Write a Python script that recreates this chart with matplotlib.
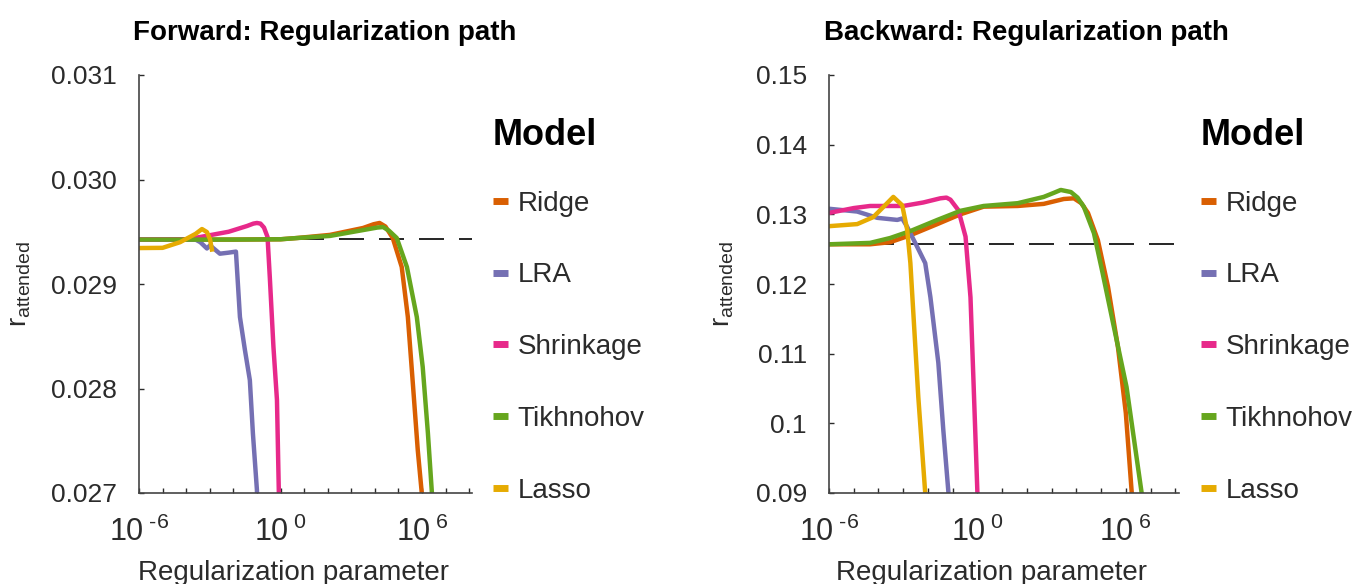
import numpy as np
import matplotlib
matplotlib.use("Agg")
import matplotlib.pyplot as plt
from matplotlib.lines import Line2D

plt.rcParams['font.family'] = ['Liberation Sans', 'DejaVu Sans']
plt.rcParams['mathtext.fontset'] = 'custom'
plt.rcParams['mathtext.rm'] = 'Liberation Sans'

# colours (Dark2) and model names
models = ['Ridge', 'LRA', 'Shrinkage', 'Tikhnohov', 'Lasso']
colors = ['#d95f02', '#7570b3', '#e7298a', '#66a61e', '#e6ab02']

# ---- Forward: log10(regularization parameter) and r_attended ----
fwd_ridge_exp = [-6, -2, 0, 0.7, 2.1, 3.5, 3.95, 4.2, 4.45, 4.76, 5.14, 5.40, 5.61, 5.82, 5.99, 6.1]
fwd_ridge_val = [0.029425, 0.029425, 0.029428, 0.02944, 0.02947, 0.029536, 0.029572, 0.029584,
                 0.02955, 0.02944, 0.029163, 0.028684, 0.028053, 0.027411, 0.027, 0.0268]
fwd_lra_exp = [-6, -3.6, -3.4, -3.12, -2.99, -2.57, -2.2, -1.89, -1.72, -1.51, -1.30, -1.17, -1.0, -0.97]
fwd_lra_val = [0.029425, 0.029425, 0.0294, 0.02934, 0.02937, 0.02929, 0.0293, 0.02931,
               0.028684, 0.02837, 0.02808, 0.02757, 0.02703, 0.0268]
fwd_shrink_exp = [-6, -4, -3.4, -2.2, -1.42, -1.15, -1.0, -0.85, -0.7, -0.55, -0.45, -0.3,
                  -0.15, -0.07, -0.03]
fwd_shrink_val = [0.029425, 0.029428, 0.02945, 0.0295, 0.029555, 0.029578, 0.029584, 0.029578,
                  0.02954, 0.02945, 0.02905, 0.0284, 0.02789, 0.027, 0.0268]
fwd_tikh_exp = [-6, -2, 0, 0.7, 2.1, 3.5, 4.1, 4.35, 4.6, 4.93, 5.36, 5.78, 6.03, 6.25, 6.42, 6.5]
fwd_tikh_val = [0.029425, 0.029425, 0.029428, 0.02944, 0.02946, 0.029516, 0.02954, 0.029545,
                0.02951, 0.02944, 0.029163, 0.028684, 0.028206, 0.027574, 0.027, 0.0268]
fwd_lasso_exp = [-6, -5, -4.26, -3.6, -3.33, -3.12, -2.99, -2.91]
fwd_lasso_val = [0.029344, 0.029346, 0.0294, 0.02948, 0.029526, 0.029497, 0.02943, 0.02933]
fwd_baseline = 0.02943

# ---- Backward ----
bwd_ridge_exp = [-6, -4.34, -3.53, -2.71, -1.62, -0.69, 0.25, 1.63, 2.68, 3.49, 3.9, 4.2,
                 4.47, 4.87, 5.28, 5.68, 6.0, 6.24, 6.35]
bwd_ridge_val = [0.1257, 0.1257, 0.1260, 0.1270, 0.1286, 0.1300, 0.1311, 0.1312, 0.1315,
                 0.1322, 0.1323, 0.1316, 0.1302, 0.1263, 0.1196, 0.1110, 0.1015, 0.090, 0.088]
bwd_lra_exp = [-6, -4.86, -4.05, -3.24, -3.04, -2.84, -2.43, -2.11, -1.9, -1.58, -1.38, -1.17, -1.12]
bwd_lra_val = [0.1308, 0.1304, 0.1295, 0.1292, 0.1294, 0.1282, 0.1253, 0.1230, 0.1181,
               0.1087, 0.0991, 0.090, 0.088]
bwd_shrink_exp = [-6, -5, -4.34, -3.0, -2.19, -1.5, -1.25, -1.09, -0.77, -0.48, -0.28, -0.16,
                  0.0, 0.03]
bwd_shrink_val = [0.1302, 0.1309, 0.1312, 0.1312, 0.1317, 0.1323, 0.1324, 0.1321, 0.1306,
                  0.1268, 0.1181, 0.1062, 0.090, 0.088]
bwd_tikh_exp = [-6, -4.34, -3.53, -2.71, -1.62, -0.69, 0.25, 1.63, 2.68, 3.1, 3.37, 3.78,
                4.05, 4.30, 4.71, 5.06, 5.46, 6.03, 6.64, 6.75]
bwd_tikh_val = [0.1257, 0.1259, 0.1266, 0.1276, 0.1292, 0.1305, 0.1312, 0.1316, 0.1325,
                0.1331, 0.1335, 0.1332, 0.1324, 0.1311, 0.1273, 0.1216, 0.1148, 0.1052,
                0.090, 0.088]
bwd_lasso_exp = [-6, -4.86, -4.21, -3.65, -3.4, -3.04, -2.84, -2.71, -2.59, -2.39, -2.11, -2.05]
bwd_lasso_val = [0.1283, 0.1286, 0.1296, 0.1316, 0.1325, 0.1313, 0.1278, 0.1230, 0.1158,
                 0.1038, 0.090, 0.088]
bwd_baseline = 0.1257

fwd = [(fwd_ridge_exp, fwd_ridge_val), (fwd_lra_exp, fwd_lra_val),
       (fwd_shrink_exp, fwd_shrink_val), (fwd_tikh_exp, fwd_tikh_val),
       (fwd_lasso_exp, fwd_lasso_val)]
bwd = [(bwd_ridge_exp, bwd_ridge_val), (bwd_lra_exp, bwd_lra_val),
       (bwd_shrink_exp, bwd_shrink_val), (bwd_tikh_exp, bwd_tikh_val),
       (bwd_lasso_exp, bwd_lasso_val)]

fwd_yticks = [0.027, 0.028, 0.029, 0.030, 0.031]
fwd_yticklabels = ['0.027', '0.028', '0.029', '0.030', '0.031']
bwd_yticks = [0.09, 0.10, 0.11, 0.12, 0.13, 0.14, 0.15]
bwd_yticklabels = ['0.09', '0.1', '0.11', '0.12', '0.13', '0.14', '0.15']
xtick_labels = [r'$\mathregular{10^{\;\text{-}6}}$', r'$\mathregular{10^{\;0}}$',
                r'$\mathregular{10^{\;6}}$']

fig = plt.figure(figsize=(13.52, 5.84), dpi=100)
ax1 = fig.add_axes([139 / 1352, 91 / 584, 333 / 1352, 418 / 584])
ax2 = fig.add_axes([829 / 1352, 91 / 584, 350 / 1352, 418 / 584])

gray = '#2b2b2b'
panels = [
    (ax1, fwd, fwd_baseline, (0.027, 0.031), fwd_yticks, fwd_yticklabels,
     'Forward: Regularization path', -0.018, -0.318, 10 ** 8.12),
    (ax2, bwd, bwd_baseline, (0.09, 0.15), bwd_yticks, bwd_yticklabels,
     'Backward: Regularization path', -0.014, -0.266, 10 ** 8.15),
]

for ax, series, base, ylim, yt, ytl, title, tx, ylx, xmax in panels:
    ax.axhline(base, color='black', lw=1.2, dashes=(15, 9), zorder=1)
    for (e, v), c, name in zip(series, colors, models):
        ax.plot(10.0 ** np.array(e), v, color=c, lw=3.2, label=name, zorder=2,
                solid_joinstyle='round')
    ax.set_xscale('log')
    ax.set_xlim(1e-6, xmax)
    ax.set_ylim(*ylim)
    ax.set_xticks([1e-6, 1e0, 1e6])
    ax.set_xticklabels(xtick_labels)
    ax.set_xticks([10.0 ** k for k in range(-6, 9)], minor=True)
    ax.xaxis.set_minor_formatter(plt.NullFormatter())
    ax.set_yticks(yt)
    ax.set_yticklabels(ytl)
    ax.tick_params(which='both', direction='in', length=3.5, width=1, colors=gray,
                   labelsize=19)
    ax.tick_params(axis='y', pad=16)
    ax.tick_params(axis='x', which='both', pad=17, labelsize=22)
    for s in ['top', 'right']:
        ax.spines[s].set_visible(False)
    for s in ['left', 'bottom']:
        ax.spines[s].set_color('#444444')
        ax.spines[s].set_linewidth(1.2)
    ax.set_xlabel('Regularization parameter', fontsize=20, color=gray)
    ax.xaxis.set_label_coords(0.465, -0.16)
    ax.set_ylabel(r'$\mathregular{r_{attended}}$', fontsize=20, color=gray)
    ax.yaxis.set_label_coords(ylx, 0.5)
    ax.text(tx, 1 + 35 / 418, title, transform=ax.transAxes, fontsize=20,
            fontweight='bold', ha='left', va='baseline', color='black')
    # legend title drawn as its own text, entries below it
    ax.text(1.063, (493 - 145) / 418, 'Model', transform=ax.transAxes, fontsize=26,
            fontweight='bold', ha='left', va='baseline', color='black')
    handles = [Line2D([], [], color=c, lw=5, solid_capstyle='butt') for c in colors]
    leg = ax.legend(handles, models, loc='upper left', bbox_to_anchor=(1.063, 0.723),
                    frameon=False, fontsize=20, handlelength=0.53,
                    handletextpad=0.35, labelspacing=1.645, borderpad=0,
                    borderaxespad=0)
    for t in leg.get_texts():
        t.set_color(gray)

fig.savefig('out.png', dpi=100)
